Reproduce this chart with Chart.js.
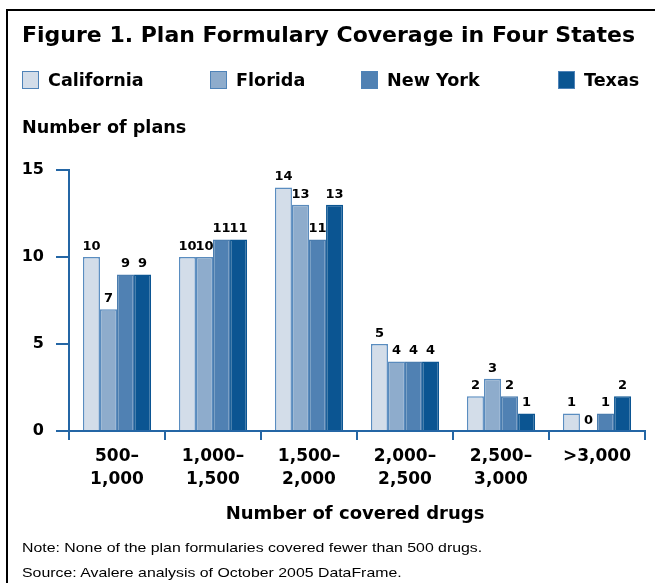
<!DOCTYPE html>
<html>
<head>
<meta charset="utf-8">
<script src="https://cdn.jsdelivr.net/npm/chart.js@4.4.0/dist/chart.umd.min.js"></script>
<style>
    body { margin: 0; background: #fff; font-family: "DejaVu Sans", sans-serif; }
    #wrap { position: relative; width: 655px; height: 583px; overflow: hidden; }
    #frame { position: absolute; left: 6px; top: 9px; width: 700px; height: 700px; border: 2px solid #000; }
    #chart { position: absolute; left: 0; top: 0; }
    .txt { position: absolute; color: #000; white-space: nowrap; }
    #title { left: 22px; top: 22px; font-size: 22px; font-weight: bold; }
    .leg { position: absolute; top: 71px; font-size: 17.6px; font-weight: bold; line-height: 18px; }
    .leg i { display: inline-block; width: 15px; height: 16px; vertical-align: -3px; margin-right: 9px; border: 1px solid #4f83b8; }
    #yTitle { left: 22px; top: 117px; font-size: 17.6px; font-weight: bold; }
    #xTitle { left: 0; width: 710px; text-align: center; top: 502px; font-size: 18px; font-weight: bold; }
    .note { left: 22px; font-family: "Liberation Sans", Arial, sans-serif; font-size: 13px; transform: scaleX(1.22); transform-origin: left center; }
</style>
</head>
<body>
<div id="wrap">
    <div id="frame"></div>
    <canvas id="chart" width="655" height="583"></canvas>
    <div class="txt" id="title">Figure 1. Plan Formulary Coverage in Four States</div>
    <div id="legend"></div>
    <div class="txt" id="yTitle">Number of plans</div>
    <div class="txt" id="xTitle">Number of covered drugs</div>
    <div class="txt note" style="top:540px">Note: None of the plan formularies covered fewer than 500 drugs.</div>
    <div class="txt note" style="top:565px">Source: Avalere analysis of October 2005 DataFrame.</div>
</div>
<script>
// Data
const categories = [['500–', '1,000'], ['1,000–', '1,500'], ['1,500–', '2,000'], ['2,000–', '2,500'], ['2,500–', '3,000'], '>3,000'];
const states = ['California', 'Florida', 'New York', 'Texas'];
const california = [10, 10, 14, 5, 2, 1];
const florida = [7, 10, 13, 4, 3, 0];
const newYork = [9, 11, 11, 4, 2, 1];
const texas = [9, 11, 13, 4, 1, 2];
const yTicks = [0, 5, 10, 15];

const fills = ['#d3dde9', '#8eaccc', '#5081b3', '#0b5592'];
const borders = ['#5a8dc0', '#5a8bbd', '#4a7cae', '#0b5592'];
const axisColor = '#2466a5';
const boldFont = '"DejaVu Sans", sans-serif';

// Legend (HTML)
const legendX = [22, 210, 361, 558];
const legendEl = document.getElementById('legend');
states.forEach((s, i) => {
    const d = document.createElement('div');
    d.className = 'leg';
    d.style.left = legendX[i] + 'px';
    d.innerHTML = '<i style="background:' + fills[i] + '"></i>' + s;
    legendEl.appendChild(d);
});

// Value labels above bars
const valueLabels = {
    id: 'valueLabels',
    afterDatasetsDraw(chart) {
        const ctx = chart.ctx;
        ctx.save();
        ctx.font = 'bold 13px ' + boldFont;
        ctx.fillStyle = '#000';
        ctx.textAlign = 'center';
        ctx.textBaseline = 'bottom';
        chart.data.datasets.forEach((ds, i) => {
            chart.getDatasetMeta(i).data.forEach((bar, j) => {
                ctx.fillText(ds.data[j], bar.x, bar.y - 4);
            });
        });
        ctx.restore();
    }
};

const seriesData = [california, florida, newYork, texas];

new Chart(document.getElementById('chart'), {
    type: 'bar',
    data: {
        labels: categories,
        datasets: states.map((s, i) => ({
            label: s,
            data: seriesData[i],
            backgroundColor: fills[i],
            borderColor: borders[i],
            borderWidth: 1.5,
            categoryPercentage: 0.71,
            barPercentage: 1
        }))
    },
    options: {
        responsive: false,
        animation: false,
        layout: { padding: { left: 7, top: 170, right: 10, bottom: 92 } },
        plugins: { legend: { display: false }, tooltip: { enabled: false } },
        scales: {
            y: {
                min: 0, max: 15,
                afterFit: s => { s.width = 62; },
                afterBuildTicks: s => { s.ticks = yTicks.map(v => ({ value: v })); },
                ticks: { color: '#000', padding: 12, font: { family: boldFont, size: 16, weight: 'bold' } },
                grid: { drawOnChartArea: false, tickLength: 13, color: axisColor, lineWidth: 2 },
                border: { color: axisColor, width: 2 }
            },
            x: {
                afterFit: s => { s.height = 60; },
                ticks: { color: '#000', padding: 6, maxRotation: 0, font: { family: boldFont, size: 17, weight: 'bold', lineHeight: 1.3 } },
                grid: { offset: true, drawOnChartArea: false, tickLength: 9, color: axisColor, lineWidth: 2 },
                border: { color: axisColor, width: 2 }
            }
        }
    },
    plugins: [valueLabels]
});
</script>
</body>
</html>
